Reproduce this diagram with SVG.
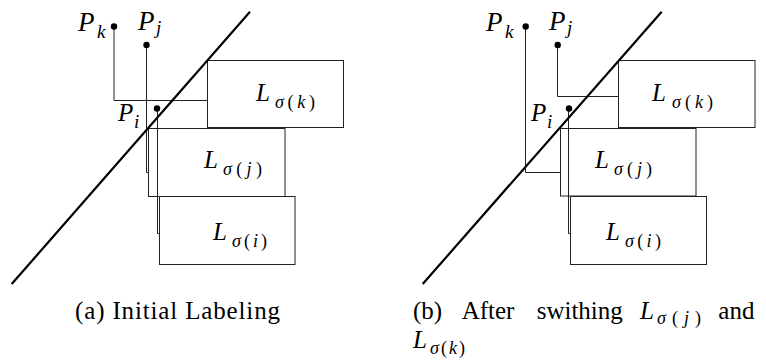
<svg xmlns="http://www.w3.org/2000/svg" width="766" height="361" viewBox="0 0 766 361">
<style>
text{font-family:"Liberation Serif","Times New Roman",serif;fill:#000}
.it{font-style:italic}
.up{font-style:normal}
.P{font-size:27px}
.Pi{font-size:25px}
.ps{font-size:19px}
.sub{font-size:18px}
.L{font-size:25px}
.cap{font-size:25px}
.box{fill:#fff;stroke:#222;stroke-width:1}
.lead{fill:none;stroke:#222;stroke-width:1}
.diag{stroke:#000;stroke-width:2.2;fill:none}
.dot{fill:#000}
</style>
<rect width="766" height="361" fill="#fff"/>

<!-- Panel (a) -->
<g id="panel-a">
  <g id="a-box-i"><rect class="box" x="159.5" y="196.5" width="135.5" height="68"/>
    <text class="L it" x="213" y="240">L</text><text class="sub" x="232" y="247" textLength="35" lengthAdjust="spacing"><tspan class="it">σ</tspan><tspan class="up">(</tspan><tspan class="it">i</tspan><tspan class="up">)</tspan></text></g>
  <g id="a-box-j"><rect class="box" x="148.5" y="128.5" width="136.5" height="68"/>
    <text class="L it" x="204" y="168">L</text><text class="sub" x="223" y="175" textLength="39" lengthAdjust="spacing"><tspan class="it">σ</tspan><tspan class="up">(</tspan><tspan class="it">j</tspan><tspan class="up">)</tspan></text></g>
  <g id="a-box-k"><rect class="box" x="207.5" y="60.5" width="136" height="67"/>
    <text class="L it" x="256" y="101">L</text><text class="sub" x="275" y="108" textLength="40" lengthAdjust="spacing"><tspan class="it">σ</tspan><tspan class="up">(</tspan><tspan class="it">k</tspan><tspan class="up">)</tspan></text></g>
  <g id="a-connectors">
    <path class="lead" d="M114 26.5 V100.5 H207.5"/>
    <path class="lead" d="M146.5 45 V172.5 H148.5"/>
    <path class="lead" d="M157.5 108.5 V233.5 H159.5"/>
    <line class="diag" x1="11.7" y1="284" x2="250" y2="11.7"/>
  </g>
  <g id="a-Pk"><circle class="dot" cx="114" cy="26.5" r="3.2"/>
    <text class="P it" x="78" y="31">P</text><text class="ps it" x="97" y="38">k</text></g>
  <g id="a-Pj"><circle class="dot" cx="146.5" cy="45" r="3.2"/>
    <text class="P it" x="138" y="30">P</text><text class="ps it" x="156" y="34">j</text></g>
  <g id="a-Pi"><circle class="dot" cx="157" cy="108.5" r="3.2"/>
    <text class="Pi it" x="118" y="121">P</text><text class="ps it" x="134" y="128">i</text></g>
  <text class="cap" x="75" y="318.5" textLength="205" lengthAdjust="spacing">(a) Initial Labeling</text>
</g>

<!-- Panel (b) -->
<g id="panel-b">
  <g id="b-box-i"><rect class="box" x="570.5" y="196.5" width="136" height="68"/>
    <text class="L it" x="606" y="240">L</text><text class="sub" x="625" y="247" textLength="36" lengthAdjust="spacing"><tspan class="it">σ</tspan><tspan class="up">(</tspan><tspan class="it">i</tspan><tspan class="up">)</tspan></text></g>
  <g id="b-box-j"><rect class="box" x="560.5" y="128.5" width="135.5" height="67.5"/>
    <text class="L it" x="595" y="168">L</text><text class="sub" x="614" y="175" textLength="38" lengthAdjust="spacing"><tspan class="it">σ</tspan><tspan class="up">(</tspan><tspan class="it">j</tspan><tspan class="up">)</tspan></text></g>
  <g id="b-box-k"><rect class="box" x="618.5" y="60.5" width="136.5" height="67"/>
    <text class="L it" x="652" y="101">L</text><text class="sub" x="672" y="108" textLength="41" lengthAdjust="spacing"><tspan class="it">σ</tspan><tspan class="up">(</tspan><tspan class="it">k</tspan><tspan class="up">)</tspan></text></g>
  <g id="b-connectors">
    <path class="lead" d="M525.5 26.5 V172.5 H560.5"/>
    <path class="lead" d="M557.5 45 V96.5 H618.5"/>
    <path class="lead" d="M568.5 108.5 V233.5 H570.5"/>
    <line class="diag" x1="422.7" y1="284" x2="661.7" y2="11.7"/>
  </g>
  <g id="b-Pk"><circle class="dot" cx="525.7" cy="26.5" r="3.2"/>
    <text class="P it" x="486" y="31">P</text><text class="ps it" x="505" y="38">k</text></g>
  <g id="b-Pj"><circle class="dot" cx="557.7" cy="45" r="3.2"/>
    <text class="P it" x="549" y="30">P</text><text class="ps it" x="567" y="34">j</text></g>
  <g id="b-Pi"><circle class="dot" cx="569" cy="108.5" r="3.2"/>
    <text class="Pi it" x="531" y="121">P</text><text class="ps it" x="547" y="128">i</text></g>
  <text class="cap" x="413" y="318.5">(b)</text>
  <text class="cap" x="461.7" y="318.5">After</text>
  <text class="cap" x="536.7" y="318.5">swithing</text>
  <text class="cap it" x="640" y="318.5">L</text><text class="sub" x="657" y="324" textLength="44" lengthAdjust="spacing"><tspan class="it">σ</tspan><tspan class="up">(</tspan><tspan class="it">j</tspan><tspan class="up">)</tspan></text>
  <text class="cap" x="718.3" y="318.5">and</text>
  <text class="cap it" x="413" y="348">L</text><text class="sub" x="430" y="353.5" textLength="35" lengthAdjust="spacing"><tspan class="it">σ</tspan><tspan class="up">(</tspan><tspan class="it">k</tspan><tspan class="up">)</tspan></text>
</g>
</svg>
